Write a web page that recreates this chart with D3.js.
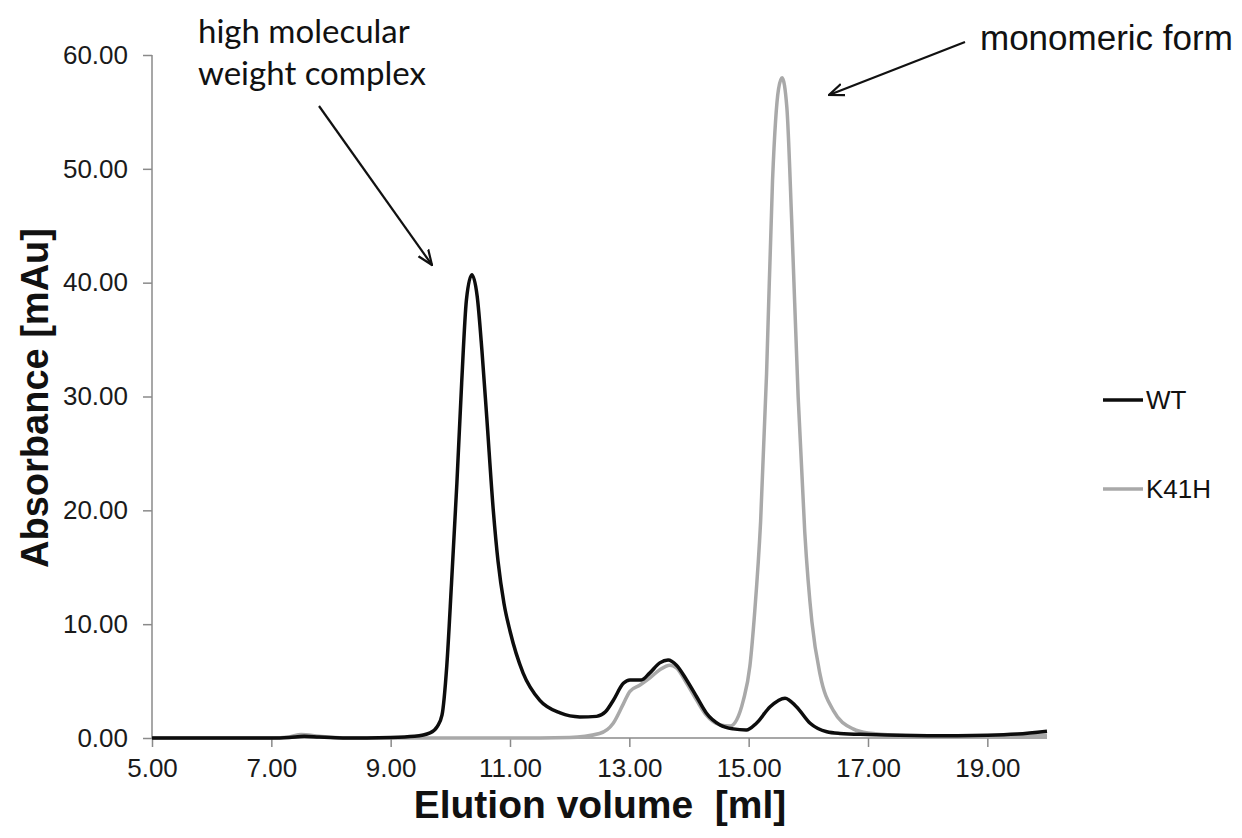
<!DOCTYPE html>
<html>
<head>
<meta charset="utf-8">
<script src="https://cdn.jsdelivr.net/npm/d3@7"></script>
<style>
  body { margin: 0; background: #fff; }
  svg { display: block; }
  .axis path, .axis line { stroke: #8a8a8a; stroke-width: 1.5; }
  .axis text { font-family: "Liberation Sans", Arial, sans-serif; font-size: 26px; fill: #1a1a1a; }
</style>
</head>
<body>
<div id="chart"></div>
<script>
// WT trace
var wtVolume = [5.0, 6.0, 7.0, 7.3, 7.55, 7.8, 8.2, 9.0, 9.4, 9.66, 9.78, 9.86, 9.94, 10.02, 10.11, 10.19, 10.27, 10.36,
  10.45, 10.53, 10.61, 10.72, 10.8, 10.9, 11.0, 11.22, 11.5, 11.84, 12.17, 12.45, 12.6, 12.73, 12.9, 13.01, 13.2, 13.34,
  13.51, 13.65, 13.79, 13.96, 14.13, 14.29, 14.52, 14.74, 14.96, 15.13, 15.36, 15.61, 15.8, 16.03, 16.31, 16.53,
  17.0, 18.0, 19.0, 19.5, 20.0];
var wtAbs = [0.0, 0.0, 0.0, 0.05, 0.15, 0.08, 0.0, 0.05, 0.15, 0.45, 1.0, 2.0, 6.3, 13.6, 22.4, 31.2, 38.5, 40.7,
  38.8, 34.0, 28.2, 20.0, 15.5, 11.8, 9.4, 5.7, 3.3, 2.2, 1.85, 1.9, 2.3, 3.3, 4.8, 5.1, 5.1, 5.7,
  6.6, 6.85, 6.4, 5.1, 3.6, 2.2, 1.15, 0.8, 0.7, 1.3, 2.75, 3.5, 2.75, 1.3, 0.55, 0.4,
  0.3, 0.2, 0.25, 0.35, 0.6];

// K41H trace
var k41hVolume = [5.0, 7.0, 7.3, 7.5, 7.8, 8.2, 9.0, 11.0, 12.0, 12.5, 12.73, 12.9, 13.01, 13.18, 13.34, 13.51, 13.68,
  13.79, 13.96, 14.13, 14.29, 14.52, 14.69, 14.8, 14.91, 15.02, 15.1, 15.2, 15.3, 15.4, 15.5, 15.56, 15.64, 15.72,
  15.83, 15.94, 16.06, 16.2, 16.42, 16.75, 17.0, 18.0, 19.0, 20.0];
var k41hAbs = [0.0, 0.0, 0.1, 0.3, 0.15, 0.0, 0.0, 0.0, 0.05, 0.4, 1.3, 3.0, 4.1, 4.65, 5.25, 6.0, 6.4,
  6.15, 4.8, 3.3, 2.0, 1.15, 1.05, 1.6, 3.3, 6.3, 11.0, 19.0, 32.0, 49.0, 57.0, 58.0, 55.4, 45.6,
  29.9, 18.1, 10.2, 5.5, 2.4, 0.8, 0.45, 0.15, 0.1, 0.25];

var xTicks = [5, 7, 9, 11, 13, 15, 17, 19];
var yTicks = [0, 10, 20, 30, 40, 50, 60];
var seriesNames = ["WT", "K41H"];
var seriesColors = ["#0d0d0d", "#a9a9a9"];

var width = 1242, height = 838;
var svg = d3.select("#chart").append("svg")
  .attr("width", width)
  .attr("height", height);

var x = d3.scaleLinear().domain([5, 20]).range([152, 1047]);
var y = d3.scaleLinear().domain([0, 60]).range([738, 55]);

// axes
svg.append("g")
  .attr("class", "axis")
  .attr("transform", "translate(0," + y(0) + ")")
  .call(d3.axisBottom(x).tickValues(xTicks).tickSize(9).tickPadding(12).tickFormat(d3.format(".2f")))
  .call(function(g) { g.select(".domain").attr("d", "M" + x(5) + ",0H" + x(20)); });

svg.append("g")
  .attr("class", "axis")
  .attr("transform", "translate(" + x(5) + ",0)")
  .call(d3.axisLeft(y).tickValues(yTicks).tickSize(9).tickPadding(15).tickFormat(d3.format(".2f")))
  .call(function(g) { g.select(".domain").attr("d", "M0," + y(60) + "V" + y(0)); });

// lines
var line = d3.line()
  .x(function(d) { return x(d[0]); })
  .y(function(d) { return y(d[1]); })
  .curve(d3.curveMonotoneX);

var series = [
  { name: "K41H", color: seriesColors[1], data: d3.zip(k41hVolume, k41hAbs) },
  { name: "WT", color: seriesColors[0], data: d3.zip(wtVolume, wtAbs) }
];

svg.selectAll(".trace")
  .data(series)
  .enter().append("path")
  .attr("class", "trace")
  .attr("fill", "none")
  .attr("stroke", function(d) { return d.color; })
  .attr("stroke-width", 3.5)
  .attr("stroke-linejoin", "round")
  .attr("d", function(d) { return line(d.data); });

// axis titles
svg.append("text")
  .attr("x", 600)
  .attr("y", 818)
  .attr("text-anchor", "middle")
  .style("font-family", "'Liberation Sans', Arial, sans-serif")
  .style("font-weight", "bold")
  .style("font-size", "39px")
  .style("white-space", "pre")
  .attr("fill", "#111")
  .text("Elution volume  [ml]");

svg.append("text")
  .attr("transform", "translate(48,398) rotate(-90)")
  .attr("text-anchor", "middle")
  .style("font-family", "'Liberation Sans', Arial, sans-serif")
  .style("font-weight", "bold")
  .style("font-size", "38px")
  .attr("fill", "#111")
  .text("Absorbance [mAu]");

// legend
var legend = svg.selectAll(".legend")
  .data(seriesNames)
  .enter().append("g")
  .attr("class", "legend")
  .attr("transform", function(d, i) { return "translate(1103," + (400 + i * 89) + ")"; });

legend.append("line")
  .attr("x1", 0).attr("x2", 40)
  .attr("stroke", function(d, i) { return seriesColors[i]; })
  .attr("stroke-width", 3.5);

legend.append("text")
  .attr("x", 43)
  .attr("dy", "0.36em")
  .style("font-family", "'Liberation Sans', Arial, sans-serif")
  .style("font-size", "26px")
  .attr("fill", "#111")
  .text(function(d) { return d; });

// annotations
var defs = svg.append("defs");
defs.append("marker")
  .attr("id", "arrow")
  .attr("viewBox", "0 -8 16 16")
  .attr("refX", 15).attr("refY", 0)
  .attr("markerWidth", 16).attr("markerHeight", 16)
  .attr("markerUnits", "userSpaceOnUse")
  .attr("orient", "auto")
  .append("path")
  .attr("d", "M0,-6L15,0L0,6")
  .attr("fill", "none")
  .attr("stroke", "#111")
  .attr("stroke-width", 2.2);

svg.append("line")
  .attr("x1", 319).attr("y1", 106)
  .attr("x2", 432).attr("y2", 265)
  .attr("stroke", "#111").attr("stroke-width", 2.2)
  .attr("marker-end", "url(#arrow)");

svg.append("line")
  .attr("x1", 965).attr("y1", 42)
  .attr("x2", 829).attr("y2", 95)
  .attr("stroke", "#111").attr("stroke-width", 2.2)
  .attr("marker-end", "url(#arrow)");

var hmw = svg.append("text")
  .style("font-family", "Lato, 'Open Sans', sans-serif")
  .style("font-size", "33px")
  .attr("fill", "#111");
hmw.append("tspan").attr("x", 198).attr("y", 43).text("high molecular");
hmw.append("tspan").attr("x", 198).attr("y", 85).text("weight complex");

svg.append("text")
  .attr("x", 980).attr("y", 50)
  .style("font-family", "'Liberation Sans', Arial, sans-serif")
  .style("font-size", "35px")
  .attr("fill", "#111")
  .text("monomeric form");
</script>
</body>
</html>
